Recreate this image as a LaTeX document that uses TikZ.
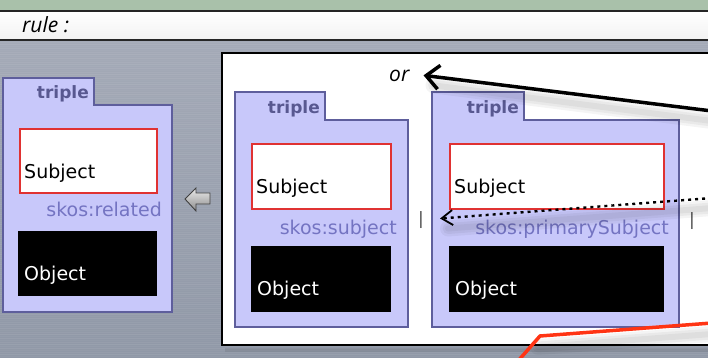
\documentclass[tikz,border=0pt]{standalone}
\usepackage{fontspec}
\setmainfont{DejaVu Sans}
\newfontfamily\slantfont{Open Sans}
\usetikzlibrary{arrows.meta,calc}

\definecolor{sage}{HTML}{A9C1AA}
\definecolor{metaltop}{HTML}{A4AAB7}
\definecolor{metalbot}{HTML}{9098A7}
\definecolor{lav}{HTML}{C8C8FA}
\definecolor{lavline}{HTML}{5E5E9C}
\definecolor{predcol}{HTML}{7474C2}
\definecolor{tabcol}{HTML}{585890}
\definecolor{subjred}{HTML}{E03232}
\definecolor{linkred}{HTML}{FF3414}

\tikzset{
  tripleshape/.style={fill=lav, draw=lavline, line width=1.6pt, line join=miter},
  tablabel/.style={anchor=base east, inner sep=0pt, text=tabcol,
    font=\bfseries\fontsize{17}{20}\selectfont},
  subjbox/.style={rectangle, draw=subjred, fill=white, line width=1.6pt,
    inner sep=0pt, anchor=north west},
  objbox/.style={rectangle, fill=black, inner sep=0pt, anchor=north west},
  boxlabel/.style={anchor=base west, inner sep=0pt,
    font=\fontsize{19}{22}\selectfont},
  predlabel/.style={anchor=base east, inner sep=0pt, text=predcol,
    font=\fontsize{19}{22}\selectfont},
  sepbar/.style={anchor=base, inner sep=0pt, text=black!70,
    font=\fontsize{17}{20}\selectfont},
  slanted/.style={anchor=base west, inner sep=0pt,
    font=\slantfont\itshape\fontsize{21}{24}\selectfont},
  shadowlayer/.style={black, opacity=0.045, line cap=round, line join=round},
}

\begin{document}
\begin{tikzpicture}[x=1pt, y=-1pt]
\useasboundingbox (0,0) rectangle (708,358);

% brushed-metal backdrop
\shade[top color=metaltop, bottom color=metalbot] (0,40) rectangle (708,358);
\foreach \yy [count=\i] in {42,44,...,358} {
  \pgfmathsetmacro\op{0.03+0.05*mod(\i*7,5)/4}
  \draw[white, opacity=\op, line width=0.9pt] (0,\yy) -- (708,\yy);
}

% title strip
\fill[sage] (0,0) rectangle (708,11);
\shade[top color=white, bottom color=black!5] (0,11) rectangle (708,40);
\draw[black!85, line width=1.4pt] (0,11) -- (708,11);
\draw[black!85, line width=2pt] (0,40) -- (708,40);
\node[slanted] (rulelbl) at (22,33) {rule :};

% rule body panel
\fill[black, opacity=0.08] (225,348) rectangle (716,352);
\draw[fill=white, line width=1.2pt] (222,53) rectangle (716,345);

% ---- left triple ----
\draw[tripleshape] (3,312) |- (94,78) |- (172,105) |- cycle;
\node[tablabel] (tabA) at (89,99) {triple};
\node[subjbox, minimum width=137pt, minimum height=64pt] (subjA) at (19,128) {};
\node[boxlabel] (subjAt) at ($(subjA.south west)+(5,-15)$) {Subject};
\node[predlabel] (predA) at (162,216) {skos:related};
\node[objbox, minimum width=139pt, minimum height=65pt] (objA) at (18,231) {};
\node[boxlabel, text=white] (objAt) at ($(objA.south west)+(6,-16)$) {Object};

% implication arrow
\shade[top color=black!8, bottom color=black!45, draw=black!75, line width=0.9pt]
  (185,199) -- (196,188) -- (196,193) -- (210,193) -- (210,204)
  -- (196,204) -- (196,211) -- cycle;

% ---- middle triple ----
\draw[tripleshape] (235,327) |- (325,92) |- (408,120) |- cycle;
\node[tablabel] (tabB) at (320,114) {triple};
\node[subjbox, minimum width=139pt, minimum height=65pt] (subjB) at (251,143) {};
\node[boxlabel] (subjBt) at ($(subjB.south west)+(5,-16)$) {Subject};
\node[predlabel] (predB) at (397,234) {skos:subject};
\node[objbox, minimum width=140pt, minimum height=66pt] (objB) at (251,246) {};
\node[boxlabel, text=white] (objBt) at ($(objB.south west)+(6,-17)$) {Object};

\node[sepbar] (barB) at (421,224) {|};

% ---- right triple ----
\draw[tripleshape] (432,327) |- (524,92) |- (679,120) |- cycle;
\node[tablabel] (tabC) at (519,114) {triple};
\node[subjbox, minimum width=214pt, minimum height=65pt] (subjC) at (449,143) {};
\node[boxlabel] (subjCt) at ($(subjC.south west)+(5,-16)$) {Subject};
\node[predlabel] (predC) at (669,234) {skos:primarySubject};
\node[objbox, minimum width=215pt, minimum height=66pt] (objC) at (449,246) {};
\node[boxlabel, text=white] (objCt) at ($(objC.south west)+(6,-17)$) {Object};

\node[sepbar] (barC) at (692,225) {|};

% alternative marker
\node[slanted] (orlbl) at (389,82) {or};

% callout connectors
\coordinate (boldfrom) at (712,111);
\coordinate (boldto) at ($(orlbl.east)+(14,-1)$);
\coordinate (dotfrom) at (712,198);
\coordinate (dotto) at ($(barB.east)+(16,-1)$);

% soft drop shadows under the callouts
\foreach \w in {16,11,6} {
  \draw[shadowlayer, line width=\w pt] ($(boldfrom)+(0,10)$) -- ($(boldto)+(10,10)$);
  \draw[shadowlayer, line width=\w pt] ($(dotfrom)+(0,10)$) -- ($(dotto)+(8,10)$);
  \draw[shadowlayer, line width=\w pt] (538,347) -- (712,334);
}

\draw[line width=3.5pt, -{Straight Barb[length=13pt, width=24pt, line width=3.5pt]}]
  (boldfrom) -- (boldto);
\draw[line width=2.4pt, dash pattern=on 3pt off 4pt,
      -{Straight Barb[length=11pt, width=15pt, line width=1.8pt]}]
  (dotfrom) -- (dotto);

% red link leaving the panel
\coordinate (redstart) at (518,361);
\coordinate (redbend) at (540,336);
\coordinate (redend) at (712,323);
\draw[linkred, line width=3.5pt, line join=miter] (redstart) -- (redbend) -- (redend);

\end{tikzpicture}
\end{document}
